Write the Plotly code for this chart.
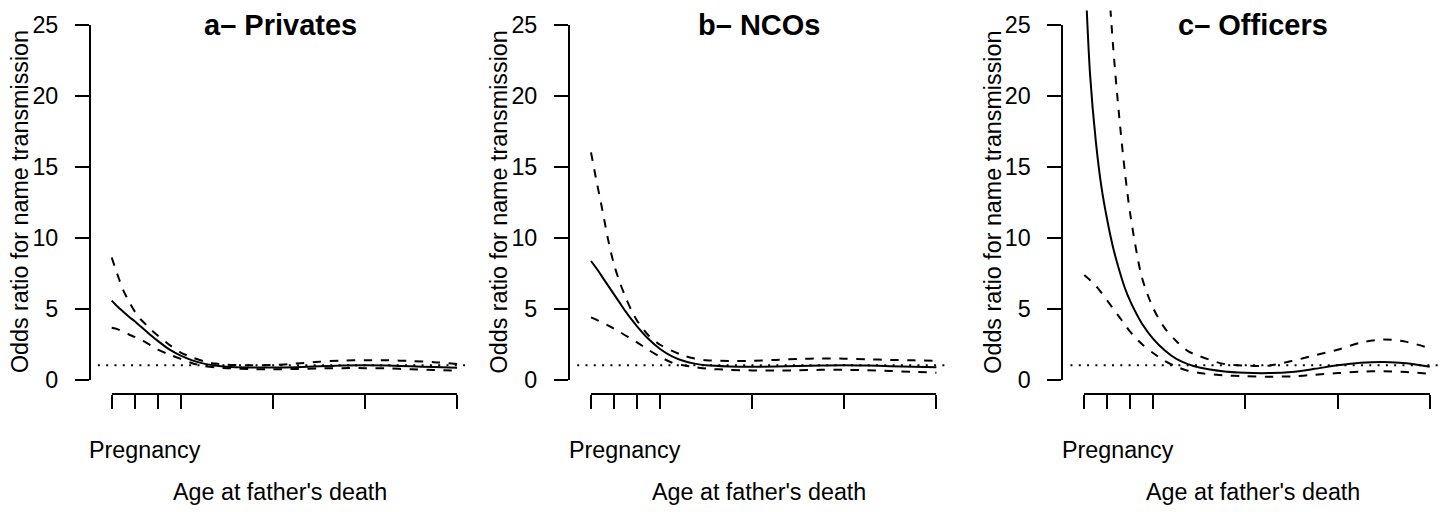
import plotly.graph_objects as go

# ---------------- data ----------------
x_age = [0, 0.25, 0.5, 0.75, 1, 1.25, 1.5, 1.75, 2, 2.5, 3, 3.5, 4, 4.5, 5,
         6, 7, 8, 9, 10, 11, 12, 13, 14, 15]

privates_or = [5.56, 5.15, 4.78, 4.42, 4.1, 3.75, 3.4, 3.05, 2.72, 2.12, 1.68, 1.35, 1.12, 0.98, 0.9,
               0.85, 0.84, 0.87, 0.93, 0.98, 1.0, 0.98, 0.93, 0.88, 0.82]
privates_hi = [8.6, 7.4, 6.3, 5.5, 4.8, 4.25, 3.85, 3.45, 3.1, 2.45, 1.9, 1.55, 1.28, 1.12, 1.04,
               1.0, 1.02, 1.12, 1.25, 1.33, 1.36, 1.35, 1.3, 1.22, 1.1]
privates_lo = [3.64, 3.55, 3.35, 3.17, 3.0, 2.8, 2.6, 2.35, 2.1, 1.76, 1.45, 1.15, 0.95, 0.85, 0.8,
               0.74, 0.72, 0.74, 0.78, 0.8, 0.8, 0.78, 0.72, 0.67, 0.62]

ncos_or = [8.35, 7.8, 7.2, 6.6, 6.0, 5.4, 4.8, 4.25, 3.75, 2.85, 2.15, 1.65, 1.32, 1.12, 1.0,
           0.92, 0.9, 0.92, 0.96, 0.98, 1.0, 0.98, 0.94, 0.9, 0.86]
ncos_hi = [16.0, 13.9, 11.9, 9.8, 8.1, 6.85, 5.8, 4.9, 4.15, 3.1, 2.45, 2.03, 1.7, 1.48, 1.36,
           1.3, 1.32, 1.38, 1.45, 1.48, 1.47, 1.43, 1.38, 1.35, 1.32]
ncos_lo = [4.38, 4.2, 4.0, 3.8, 3.58, 3.35, 3.1, 2.86, 2.62, 2.08, 1.6, 1.2, 1.0, 0.88, 0.77,
           0.68, 0.64, 0.63, 0.65, 0.68, 0.68, 0.66, 0.6, 0.54, 0.48]

officers_or = [30.0, 21.5, 16.8, 13.5, 11.2, 9.3, 7.8, 6.5, 5.5, 3.95, 2.85, 2.05, 1.45, 1.08, 0.84,
               0.58, 0.47, 0.45, 0.53, 0.75, 1.0, 1.18, 1.24, 1.15, 0.9]
officers_hi = [110.0, 75.0, 52.0, 38.5, 29.5, 23.5, 18.8, 14.8, 11.6, 7.2, 5.0, 3.6, 2.7, 2.0, 1.65,
               1.12, 0.98, 0.97, 1.3, 1.7, 2.1, 2.6, 2.82, 2.65, 2.2]
officers_lo = [7.36, 7.0, 6.6, 6.1, 5.55, 5.0, 4.45, 3.9, 3.35, 2.5, 1.85, 1.3, 0.9, 0.62, 0.46,
               0.3, 0.23, 0.2, 0.22, 0.33, 0.45, 0.55, 0.58, 0.52, 0.4]

panel_titles = ["a\u2013 Privates", "b\u2013 NCOs", "c\u2013 Officers"]
y_tick_vals = [0, 5, 10, 15, 20, 25]
x_tick_vals = [0, 1, 2, 3, 7, 11, 15]
ref_level = 1
y_label = "Odds ratio for name transmission"
x_label = "Age at father's death"
preg_label = "Pregnancy"

series = [
    (privates_or, privates_hi, privates_lo),
    (ncos_or, ncos_hi, ncos_lo),
    (officers_or, officers_hi, officers_lo),
]

# ---------------- layout geometry (screen pixels) ----------------
W, H = 1454, 512
PAGE_OFF = 8  # the page body margin shifts the figure by 8 px
FONT = "Liberation Sans, Arial, Helvetica, sans-serif"
TXT = 23.3
panel_x0 = [111.7, 591.0, 1084.3]   # pixel of x = 0
panel_axis = [90.0, 569.0, 1062.3]   # pixel of the y axis line
panel_w = 345.4                      # pixels from x=0 to x=15
y0_px, y25_px = 379.5, 24.7
xaxis_line_px = 394.0
XMAX = 15.0
YMAX = 25.0


def px(p):
    return (p - PAGE_OFF) / W


def py(p):
    return 1 - (p - PAGE_OFF) / H


fig = go.Figure()
layout = dict(
    template="none",
    width=W, height=H, autosize=False,
    margin=dict(l=0, r=0, t=0, b=0, pad=0, autoexpand=False),
    paper_bgcolor="white", plot_bgcolor="rgba(0,0,0,0)",
    showlegend=False,
    font=dict(family=FONT, size=TXT, color="black"),
)
annotations = []
shapes = []

ppu_y = (y0_px - y25_px) / YMAX
for i, (mid, hi, lo) in enumerate(series):
    x0 = panel_x0[i]
    ppu_x = panel_w / XMAX
    left_px = panel_axis[i]
    right_px = x0 + panel_w * 1.04
    xmin = (left_px - x0) / ppu_x
    xmax = (right_px - x0) / ppu_x
    top_px = y25_px - 0.04 * YMAX * ppu_y
    bot_px = y0_px + 0.04 * YMAX * ppu_y
    ymin, ymax = -0.04 * YMAX, YMAX * 1.04

    dn = i + 1
    an = i + 4
    layout[f"xaxis{dn}"] = dict(domain=[px(left_px), px(right_px)], range=[xmin, xmax],
                               visible=False, anchor=f"y{dn}", fixedrange=True,
                               automargin=False)
    layout[f"yaxis{dn}"] = dict(domain=[py(bot_px), py(top_px)], range=[ymin, ymax],
                               visible=False, anchor=f"x{dn}", fixedrange=True,
                               automargin=False)

    for vals, dash in ((hi, "8.5px,8.5px"), (lo, "8.5px,8.5px"), (mid, "solid")):
        fig.add_trace(go.Scatter(
            x=x_age, y=vals, mode="lines",
            line=dict(color="black", width=2, dash=dash, shape="spline", smoothing=0.8),
            xaxis=f"x{dn}", yaxis=f"y{dn}", hoverinfo="skip", showlegend=False))

    # reference line at OR = 1
    shapes.append(dict(type="line", xref=f"x{dn}", yref=f"y{dn}",
                       x0=-0.6, x1=xmax, y0=ref_level, y1=ref_level,
                       line=dict(color="black", width=2, dash="2px,6.3px")))

    # axis subplot (axis lines limited to the tick range, like R's axis())
    fig.add_trace(go.Scatter(x=[], y=[], xaxis=f"x{an}", yaxis=f"y{an}",
                             hoverinfo="skip", showlegend=False))
    layout[f"xaxis{an}"] = dict(
        domain=[px(x0), px(x0 + panel_w)], range=[0, XMAX],
        anchor="free", position=py(xaxis_line_px), automargin=False,
        showline=True, linecolor="black", linewidth=2,
        ticks="outside", ticklen=14, tickwidth=2, tickcolor="black",
        tickvals=x_tick_vals, ticktext=[""] * len(x_tick_vals),
        showgrid=False, zeroline=False, fixedrange=True)
    layout[f"yaxis{an}"] = dict(
        domain=[py(y0_px), py(y25_px)], range=[0, YMAX],
        anchor="free", position=px(panel_axis[i]), automargin=False,
        showline=True, linecolor="black", linewidth=2,
        ticks="outside", ticklen=14, tickwidth=2, tickcolor="black",
        tickvals=y_tick_vals, ticktext=[str(v) for v in y_tick_vals],
        tickfont=dict(family=FONT, size=TXT, color="black"),
        ticklabelstandoff=12,
        showgrid=False, zeroline=False, fixedrange=True)

    cx = x0 + 168.5
    annotations.append(dict(text=f"<b>{panel_titles[i]}</b>", x=px(cx), y=py(24.5),
                            xref="paper", yref="paper", xanchor="center", yanchor="middle",
                            showarrow=False, font=dict(family=FONT, size=29, color="black")))
    annotations.append(dict(text=x_label, x=px(cx), y=py(492),
                            xref="paper", yref="paper", xanchor="center", yanchor="middle",
                            showarrow=False, font=dict(family=FONT, size=TXT, color="black")))
    annotations.append(dict(text=preg_label, x=px(x0 + 33.5), y=py(450),
                            xref="paper", yref="paper", xanchor="center", yanchor="middle",
                            showarrow=False, font=dict(family=FONT, size=TXT, color="black")))
    annotations.append(dict(text=y_label, x=px(x0 - 91.7), y=py((y0_px + y25_px) / 2),
                            xref="paper", yref="paper", xanchor="center", yanchor="middle",
                            textangle=-90, showarrow=False,
                            font=dict(family=FONT, size=TXT, color="black")))

layout["annotations"] = annotations
layout["shapes"] = shapes
fig.update_layout(**layout)
fig.write_html("out.html")
